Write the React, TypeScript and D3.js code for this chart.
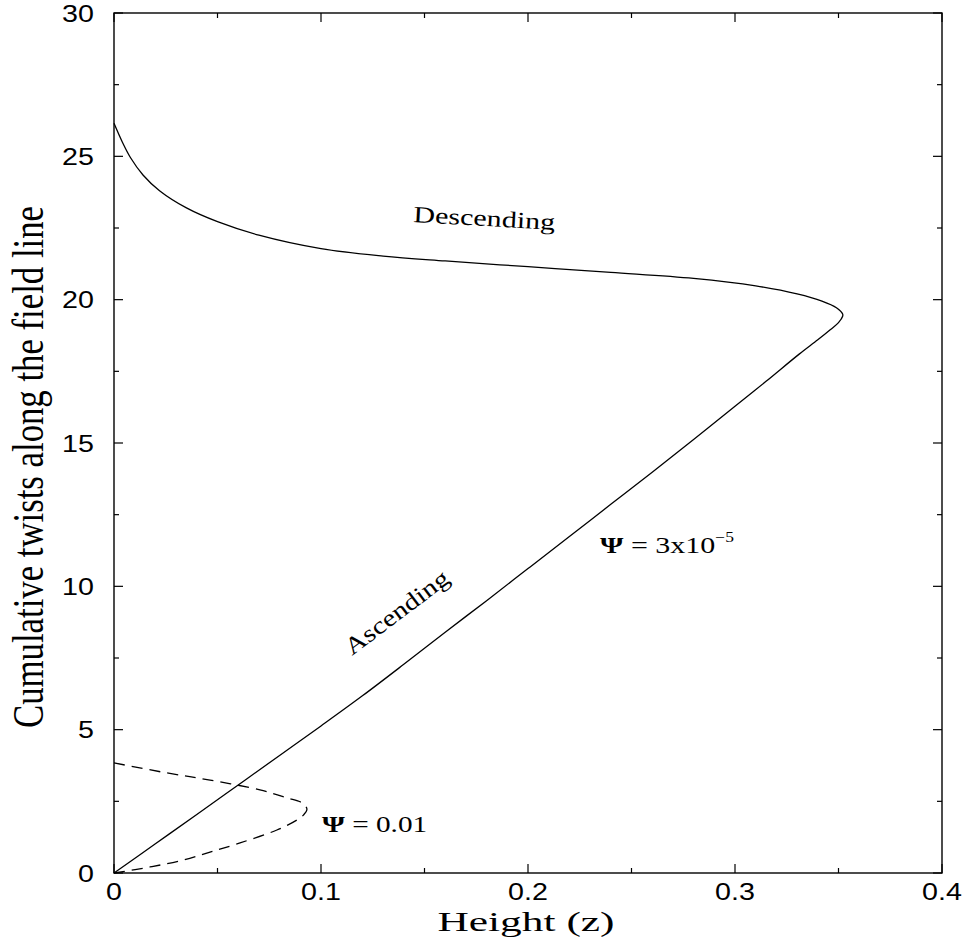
import React from "react";
import * as d3 from "d3";

// Cumulative twists vs height for two values of the flux parameter Psi.
// Weak twist (Psi = 3x10^-5): ascending branch then descending branch.
const weakHeight = [
  0, 0.02, 0.04, 0.06, 0.08, 0.1, 0.12, 0.14, 0.16, 0.18, 0.2, 0.22, 0.24,
  0.26, 0.28, 0.3, 0.315, 0.331, 0.34, 0.346, 0.35, 0.352,
  0.352, 0.349, 0.342, 0.33, 0.31, 0.28, 0.24, 0.2, 0.16, 0.13, 0.1, 0.07,
  0.05, 0.035, 0.022, 0.014, 0.008, 0.004, 0,
];
const weakTwist = [
  0, 1.02, 2.04, 3.07, 4.1, 5.13, 6.18, 7.28, 8.4, 9.5, 10.62, 11.74, 12.86,
  13.98, 15.12, 16.28, 17.15, 18.1, 18.6, 18.95, 19.2, 19.42,
  19.5, 19.72, 19.95, 20.2, 20.48, 20.74, 20.95, 21.15, 21.35, 21.52, 21.78,
  22.25, 22.72, 23.2, 23.8, 24.35, 24.95, 25.5, 26.15,
];

// Strong twist (Psi = 0.01): small loop near the origin.
const strongHeight = [
  0, 0.0174, 0.0333, 0.0464, 0.0609, 0.0787, 0.0884, 0.0915, 0.0932, 0.091,
  0.0836, 0.0705, 0.0464, 0.0256, 0,
];
const strongTwist = [
  0, 0.21, 0.45, 0.73, 1.05, 1.5, 1.85, 2.02, 2.23, 2.44, 2.62, 2.9, 3.24,
  3.49, 3.84,
];

const xTickValues = [0, 0.05, 0.1, 0.15, 0.2, 0.25, 0.3, 0.35, 0.4];
const xTickLabels = ["0", "", "0.1", "", "0.2", "", "0.3", "", "0.4"];
const yTickValues = [0, 2.5, 5, 7.5, 10, 12.5, 15, 17.5, 20, 22.5, 25, 27.5, 30];
const yTickLabels = ["0", "", "5", "", "10", "", "15", "", "20", "", "25", "", "30"];

const W = 967;
const H = 943;
const left = 114;
const right = 942;
const top = 13;
const bottom = 873;

const sans = "'Liberation Sans', Arial, Helvetica, sans-serif";
const serif = "'Liberation Serif', 'Times New Roman', Times, serif";

export default function App() {
  const x = d3.scaleLinear().domain([0, 0.4]).range([left, right]);
  const y = d3.scaleLinear().domain([0, 30]).range([bottom, top]);

  const line = d3
    .line<[number, number]>()
    .x((d) => x(d[0]))
    .y((d) => y(d[1]))
    .curve(d3.curveCatmullRom.alpha(0.5));

  const weakPath = line(weakHeight.map((h, i) => [h, weakTwist[i]]) as [number, number][]) || "";
  const strongPath = line(strongHeight.map((h, i) => [h, strongTwist[i]]) as [number, number][]) || "";

  const major = 9;
  const minor = 5;

  return (
    <svg
      width={W}
      height={H}
      viewBox={`0 0 ${W} ${H}`}
      style={{ position: "absolute", left: 0, top: 0, background: "#fff" }}
    >
      <rect x={0} y={0} width={W} height={H} fill="#fff" />

      {/* ticks on all four sides, pointing inward */}
      <g stroke="#000" strokeWidth={1.2}>
        {xTickValues.map((v, i) => {
          const len = xTickLabels[i] ? major : minor;
          return (
            <g key={`xt${i}`}>
              <line x1={x(v)} x2={x(v)} y1={bottom} y2={bottom - len} />
              <line x1={x(v)} x2={x(v)} y1={top} y2={top + len} />
            </g>
          );
        })}
        {yTickValues.map((v, i) => {
          const len = yTickLabels[i] ? major : minor;
          return (
            <g key={`yt${i}`}>
              <line x1={left} x2={left + len} y1={y(v)} y2={y(v)} />
              <line x1={right} x2={right - len} y1={y(v)} y2={y(v)} />
            </g>
          );
        })}
      </g>

      {/* frame */}
      <rect
        x={left}
        y={top}
        width={right - left}
        height={bottom - top}
        fill="none"
        stroke="#000"
        strokeWidth={1.4}
      />

      {/* tick labels */}
      <g fontFamily={sans} fontSize={23.5} fill="#000">
        {xTickValues.map((v, i) =>
          xTickLabels[i] ? (
            <text
              key={`xl${i}`}
              transform={`translate(${x(v)},900) scale(1.22,1)`}
              textAnchor="middle"
            >
              {xTickLabels[i]}
            </text>
          ) : null
        )}
        {yTickValues.map((v, i) =>
          yTickLabels[i] ? (
            <text
              key={`yl${i}`}
              transform={`translate(94,${y(v) + 8.8}) scale(1.22,1)`}
              textAnchor="end"
            >
              {yTickLabels[i]}
            </text>
          ) : null
        )}
      </g>

      {/* curves */}
      <path d={weakPath} fill="none" stroke="#000" strokeWidth={1.3} />
      <path
        d={strongPath}
        fill="none"
        stroke="#000"
        strokeWidth={1.3}
        strokeDasharray="11,7"
      />

      {/* axis titles */}
      <text
        transform="translate(526,931) scale(1.55,1)"
        textAnchor="middle"
        fontFamily={serif}
        fontSize={28}
        fill="#000"
      >
        Height (z)
      </text>
      <text
        transform="translate(43,728) rotate(-90)"
        fontFamily={serif}
        fontSize={44}
        textLength={522}
        lengthAdjust="spacingAndGlyphs"
        fill="#000"
      >
        Cumulative twists along the field line
      </text>

      {/* curve annotations */}
      <text
        transform="translate(413,222) rotate(3.2)"
        fontFamily={serif}
        fontSize={23}
        textLength={142}
        lengthAdjust="spacingAndGlyphs"
        fill="#000"
      >
        Descending
      </text>
      <text
        transform="translate(352,656) rotate(-37)"
        fontFamily={serif}
        fontSize={24}
        textLength={124}
        lengthAdjust="spacingAndGlyphs"
        fill="#000"
      >
        Ascending
      </text>
      <g transform="translate(600,553) scale(1.25,1)" fontFamily={serif} fontSize={24} fill="#000">
        <text>
          <tspan fontWeight="bold">Ψ</tspan>
          <tspan> = 3x10</tspan>
          <tspan fontSize={14} dy={-11}>−5</tspan>
        </text>
      </g>
      <g transform="translate(322,832) scale(1.22,1)" fontFamily={serif} fontSize={24} fill="#000">
        <text>
          <tspan fontWeight="bold">Ψ</tspan>
          <tspan> = 0.01</tspan>
        </text>
      </g>
    </svg>
  );
}
